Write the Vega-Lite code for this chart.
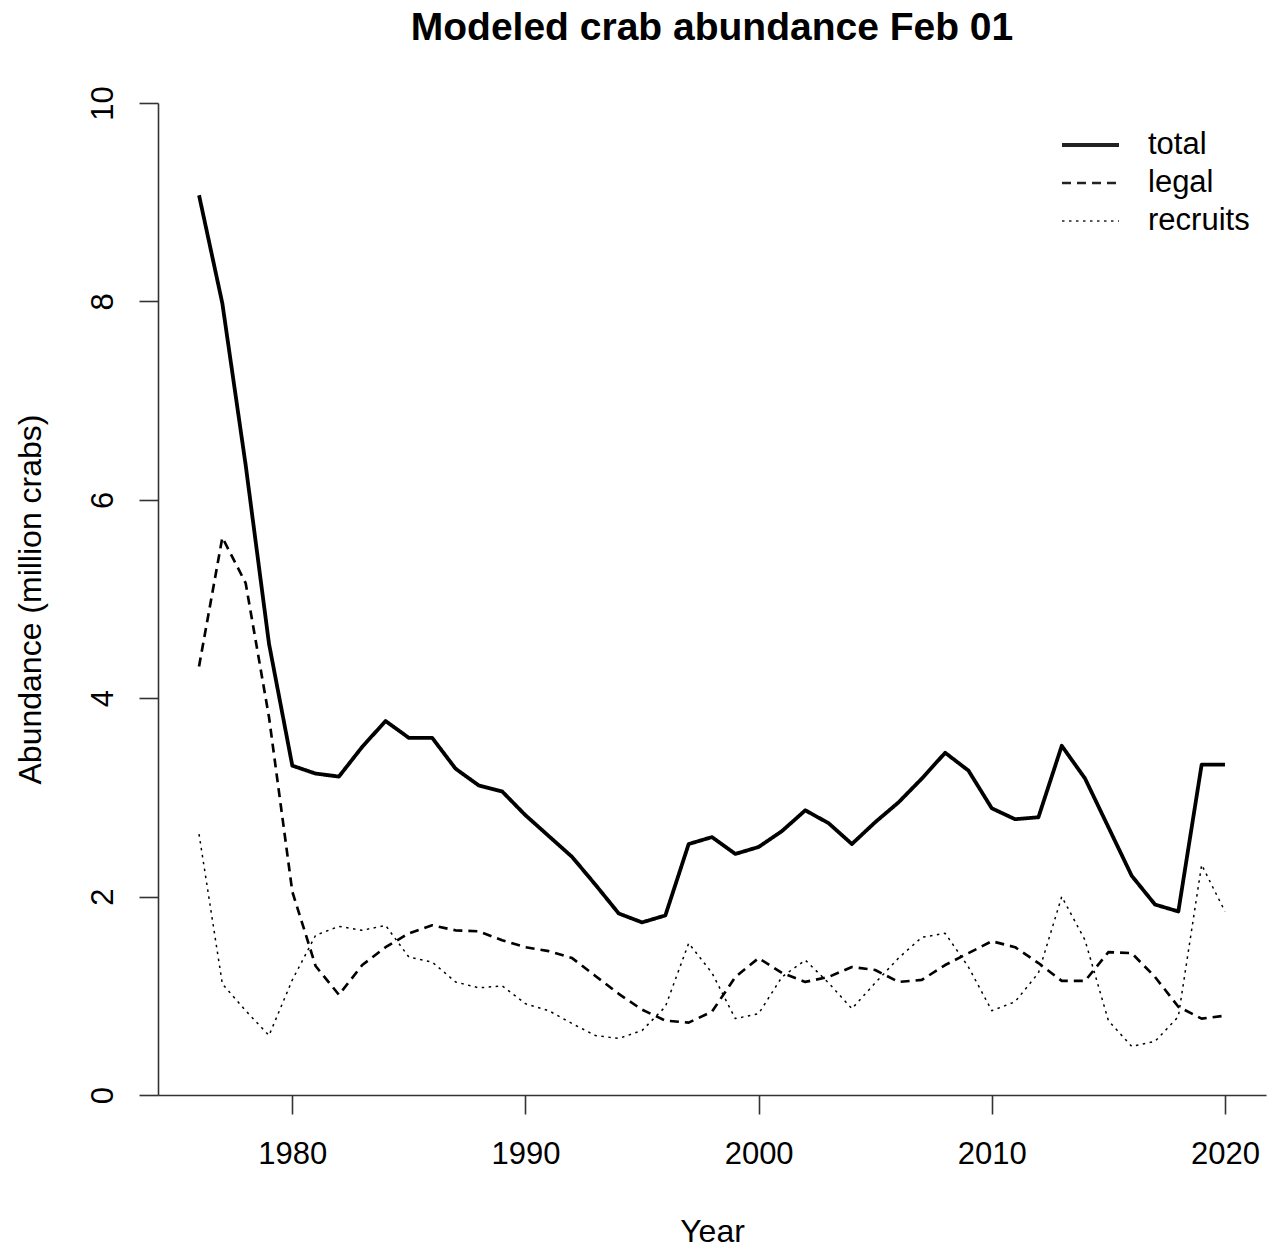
{
  "$schema": "https://vega.github.io/schema/vega-lite/v6.json",
  "width": 1108,
  "height": 992,
  "autosize": {"type": "none"},
  "padding": {"left": 158, "top": 103, "right": 7, "bottom": 154},
  "background": "white",
  "title": {
    "text": "Modeled crab abundance Feb 01",
    "font": "Liberation Sans",
    "fontSize": 39,
    "fontWeight": "bold",
    "color": "black",
    "anchor": "middle",
    "baseline": "alphabetic",
    "offset": 7
  },
  "config": {
    "view": {"stroke": null},
    "font": "Liberation Sans"
  },
  "data": {
    "values": [
      {"year": 1976, "series": "total", "value": 9.07},
      {"year": 1977, "series": "total", "value": 7.98},
      {"year": 1978, "series": "total", "value": 6.35},
      {"year": 1979, "series": "total", "value": 4.55},
      {"year": 1980, "series": "total", "value": 3.32},
      {"year": 1981, "series": "total", "value": 3.24},
      {"year": 1982, "series": "total", "value": 3.21},
      {"year": 1983, "series": "total", "value": 3.51},
      {"year": 1984, "series": "total", "value": 3.77},
      {"year": 1985, "series": "total", "value": 3.60},
      {"year": 1986, "series": "total", "value": 3.60},
      {"year": 1987, "series": "total", "value": 3.29},
      {"year": 1988, "series": "total", "value": 3.12},
      {"year": 1989, "series": "total", "value": 3.06},
      {"year": 1990, "series": "total", "value": 2.82},
      {"year": 1991, "series": "total", "value": 2.61},
      {"year": 1992, "series": "total", "value": 2.40},
      {"year": 1993, "series": "total", "value": 2.12},
      {"year": 1994, "series": "total", "value": 1.83},
      {"year": 1995, "series": "total", "value": 1.74},
      {"year": 1996, "series": "total", "value": 1.81},
      {"year": 1997, "series": "total", "value": 2.53},
      {"year": 1998, "series": "total", "value": 2.60},
      {"year": 1999, "series": "total", "value": 2.43},
      {"year": 2000, "series": "total", "value": 2.50},
      {"year": 2001, "series": "total", "value": 2.66},
      {"year": 2002, "series": "total", "value": 2.87},
      {"year": 2003, "series": "total", "value": 2.74},
      {"year": 2004, "series": "total", "value": 2.53},
      {"year": 2005, "series": "total", "value": 2.75},
      {"year": 2006, "series": "total", "value": 2.95},
      {"year": 2007, "series": "total", "value": 3.19},
      {"year": 2008, "series": "total", "value": 3.45},
      {"year": 2009, "series": "total", "value": 3.27},
      {"year": 2010, "series": "total", "value": 2.89},
      {"year": 2011, "series": "total", "value": 2.78},
      {"year": 2012, "series": "total", "value": 2.80},
      {"year": 2013, "series": "total", "value": 3.52},
      {"year": 2014, "series": "total", "value": 3.19},
      {"year": 2015, "series": "total", "value": 2.70},
      {"year": 2016, "series": "total", "value": 2.21},
      {"year": 2017, "series": "total", "value": 1.92},
      {"year": 2018, "series": "total", "value": 1.85},
      {"year": 2019, "series": "total", "value": 3.33},
      {"year": 2020, "series": "total", "value": 3.33},
      {"year": 1976, "series": "legal", "value": 4.32},
      {"year": 1977, "series": "legal", "value": 5.62},
      {"year": 1978, "series": "legal", "value": 5.16},
      {"year": 1979, "series": "legal", "value": 3.81},
      {"year": 1980, "series": "legal", "value": 2.05},
      {"year": 1981, "series": "legal", "value": 1.30},
      {"year": 1982, "series": "legal", "value": 1.01},
      {"year": 1983, "series": "legal", "value": 1.31},
      {"year": 1984, "series": "legal", "value": 1.49},
      {"year": 1985, "series": "legal", "value": 1.63},
      {"year": 1986, "series": "legal", "value": 1.71},
      {"year": 1987, "series": "legal", "value": 1.66},
      {"year": 1988, "series": "legal", "value": 1.65},
      {"year": 1989, "series": "legal", "value": 1.56},
      {"year": 1990, "series": "legal", "value": 1.49},
      {"year": 1991, "series": "legal", "value": 1.45},
      {"year": 1992, "series": "legal", "value": 1.38},
      {"year": 1993, "series": "legal", "value": 1.20},
      {"year": 1994, "series": "legal", "value": 1.02},
      {"year": 1995, "series": "legal", "value": 0.86},
      {"year": 1996, "series": "legal", "value": 0.75},
      {"year": 1997, "series": "legal", "value": 0.73},
      {"year": 1998, "series": "legal", "value": 0.84},
      {"year": 1999, "series": "legal", "value": 1.19},
      {"year": 2000, "series": "legal", "value": 1.38},
      {"year": 2001, "series": "legal", "value": 1.23},
      {"year": 2002, "series": "legal", "value": 1.14},
      {"year": 2003, "series": "legal", "value": 1.19},
      {"year": 2004, "series": "legal", "value": 1.29},
      {"year": 2005, "series": "legal", "value": 1.26},
      {"year": 2006, "series": "legal", "value": 1.14},
      {"year": 2007, "series": "legal", "value": 1.16},
      {"year": 2008, "series": "legal", "value": 1.31},
      {"year": 2009, "series": "legal", "value": 1.43},
      {"year": 2010, "series": "legal", "value": 1.55},
      {"year": 2011, "series": "legal", "value": 1.49},
      {"year": 2012, "series": "legal", "value": 1.33},
      {"year": 2013, "series": "legal", "value": 1.15},
      {"year": 2014, "series": "legal", "value": 1.15},
      {"year": 2015, "series": "legal", "value": 1.44},
      {"year": 2016, "series": "legal", "value": 1.43},
      {"year": 2017, "series": "legal", "value": 1.19},
      {"year": 2018, "series": "legal", "value": 0.89},
      {"year": 2019, "series": "legal", "value": 0.77},
      {"year": 2020, "series": "legal", "value": 0.80},
      {"year": 1976, "series": "recruits", "value": 2.63},
      {"year": 1977, "series": "recruits", "value": 1.12},
      {"year": 1978, "series": "recruits", "value": 0.85},
      {"year": 1979, "series": "recruits", "value": 0.60},
      {"year": 1980, "series": "recruits", "value": 1.16},
      {"year": 1981, "series": "recruits", "value": 1.61},
      {"year": 1982, "series": "recruits", "value": 1.70},
      {"year": 1983, "series": "recruits", "value": 1.66},
      {"year": 1984, "series": "recruits", "value": 1.71},
      {"year": 1985, "series": "recruits", "value": 1.39},
      {"year": 1986, "series": "recruits", "value": 1.34},
      {"year": 1987, "series": "recruits", "value": 1.14},
      {"year": 1988, "series": "recruits", "value": 1.08},
      {"year": 1989, "series": "recruits", "value": 1.10},
      {"year": 1990, "series": "recruits", "value": 0.92},
      {"year": 1991, "series": "recruits", "value": 0.85},
      {"year": 1992, "series": "recruits", "value": 0.72},
      {"year": 1993, "series": "recruits", "value": 0.60},
      {"year": 1994, "series": "recruits", "value": 0.57},
      {"year": 1995, "series": "recruits", "value": 0.65},
      {"year": 1996, "series": "recruits", "value": 0.89},
      {"year": 1997, "series": "recruits", "value": 1.53},
      {"year": 1998, "series": "recruits", "value": 1.23},
      {"year": 1999, "series": "recruits", "value": 0.77},
      {"year": 2000, "series": "recruits", "value": 0.82},
      {"year": 2001, "series": "recruits", "value": 1.19},
      {"year": 2002, "series": "recruits", "value": 1.36},
      {"year": 2003, "series": "recruits", "value": 1.13},
      {"year": 2004, "series": "recruits", "value": 0.87},
      {"year": 2005, "series": "recruits", "value": 1.13},
      {"year": 2006, "series": "recruits", "value": 1.38},
      {"year": 2007, "series": "recruits", "value": 1.59},
      {"year": 2008, "series": "recruits", "value": 1.63},
      {"year": 2009, "series": "recruits", "value": 1.29},
      {"year": 2010, "series": "recruits", "value": 0.85},
      {"year": 2011, "series": "recruits", "value": 0.94},
      {"year": 2012, "series": "recruits", "value": 1.23},
      {"year": 2013, "series": "recruits", "value": 2.00},
      {"year": 2014, "series": "recruits", "value": 1.56},
      {"year": 2015, "series": "recruits", "value": 0.75},
      {"year": 2016, "series": "recruits", "value": 0.49},
      {"year": 2017, "series": "recruits", "value": 0.54},
      {"year": 2018, "series": "recruits", "value": 0.79},
      {"year": 2019, "series": "recruits", "value": 2.32},
      {"year": 2020, "series": "recruits", "value": 1.85}
    ]
  },
  "mark": {"type": "line", "color": "black", "strokeCap": "butt", "strokeJoin": "round", "clip": false},
  "encoding": {
    "x": {
      "field": "year",
      "type": "quantitative",
      "scale": {"domain": [1974.24, 2021.76], "nice": false, "zero": false},
      "axis": {
        "values": [1980, 1990, 2000, 2010, 2020],
        "format": "d",
        "grid": false,
        "title": "Year",
        "domainColor": "#333",
        "domainWidth": 1.6,
        "tickColor": "#333",
        "tickWidth": 1.6,
        "tickSize": 19,
        "labelFont": "Liberation Sans",
        "labelFontSize": 31,
        "labelColor": "black",
        "labelPadding": 25,
        "labelBaseline": "top",
        "labelFlush": false,
        "labelOverlap": false,
        "titleFont": "Liberation Sans",
        "titleFontSize": 32,
        "titleFontWeight": "normal",
        "titleColor": "black",
        "titleX": 554,
        "titleY": 146,
        "titleAlign": "center",
        "titleBaseline": "alphabetic"
      }
    },
    "y": {
      "field": "value",
      "type": "quantitative",
      "scale": {"domain": [0, 10], "nice": false},
      "axis": {
        "values": [0, 2, 4, 6, 8, 10],
        "grid": false,
        "title": "Abundance (million crabs)",
        "domainColor": "#333",
        "domainWidth": 1.6,
        "tickColor": "#333",
        "tickWidth": 1.6,
        "tickSize": 19,
        "labelFont": "Liberation Sans",
        "labelFontSize": 31,
        "labelColor": "black",
        "labelAngle": -90,
        "labelAlign": "center",
        "labelBaseline": "alphabetic",
        "labelPadding": 27,
        "labelFlush": false,
        "labelOverlap": false,
        "titleFont": "Liberation Sans",
        "titleFontSize": 32,
        "titleFontWeight": "normal",
        "titleColor": "black",
        "titleAngle": -90,
        "titleX": -118,
        "titleY": 496,
        "titleAlign": "center",
        "titleBaseline": "alphabetic"
      }
    },
    "strokeDash": {
      "field": "series",
      "type": "nominal",
      "scale": {"domain": ["total", "legal", "recruits"], "range": [[1, 0], [9, 6], [2.5, 4.5]]},
      "legend": {
        "title": null,
        "orient": "none",
        "legendX": 902,
        "legendY": 23,
        "padding": 0,
        "symbolType": "stroke",
        "symbolSize": 3249,
        "symbolStrokeWidth": 2,
        "symbolStrokeColor": "#222",
        "clipHeight": 38,
        "rowPadding": 0,
        "labelFont": "Liberation Sans",
        "labelFontSize": 31,
        "labelColor": "black",
        "labelOffset": 27,
        "labelLimit": 300
      }
    },
    "strokeWidth": {
      "field": "series",
      "type": "nominal",
      "scale": {"domain": ["total", "legal", "recruits"], "range": [3.8, 1.5, 2]},
      "legend": null
    }
  }
}
